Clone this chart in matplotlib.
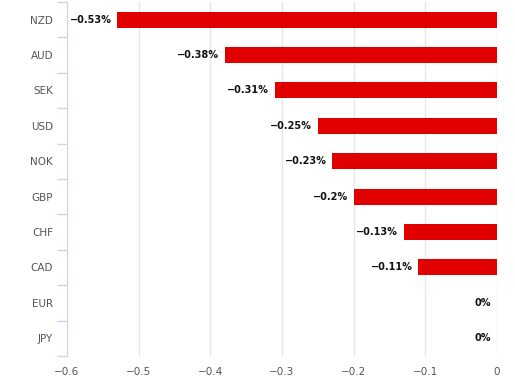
import numpy as np
import matplotlib.pyplot as plt

monedas = ["NZD", "AUD", "SEK", "USD", "NOK", "GBP", "CHF", "CAD", "EUR", "JPY"]
valores = [-0.53, -0.38, -0.31, -0.25, -0.23, -0.20, -0.13, -0.11, 0.0, 0.0]
etiquetas = ["\u22120.53%", "\u22120.38%", "\u22120.31%", "\u22120.25%", "\u22120.23%",
             "\u22120.2%", "\u22120.13%", "\u22120.11%", "0%", "0%"]
ticks_x = [-0.6, -0.5, -0.4, -0.3, -0.2, -0.1, 0]
ticks_x_txt = ["\u22120.6", "\u22120.5", "\u22120.4", "\u22120.3", "\u22120.2", "\u22120.1", "0"]

plt.rcParams['font.family'] = ['DejaVu Sans']

fig = plt.figure(figsize=(5.15, 3.89), dpi=100)
ax = fig.add_axes([0.130, 0.085, 0.835, 0.910])

y = np.arange(len(monedas))
ax.barh(y, valores, height=0.45, color="#e00000", zorder=3)

# etiquetas de valor a la izquierda de cada barra
for yi, v, txt in zip(y, valores, etiquetas):
    ax.annotate(txt, (v, yi), xytext=(-4, 0), textcoords="offset points",
                ha="right", va="center", fontsize=7, fontweight="bold", color="#111111")

ax.set_xlim(-0.6, 0)
ax.set_ylim(len(monedas) - 0.5, -0.5)

ax.set_xticks(ticks_x)
ax.set_xticklabels(ticks_x_txt, fontsize=7.5, color="#555555")
ax.tick_params(axis="x", length=0, pad=8)
ax.grid(axis="x", color="#e6e6e6", linewidth=1, zorder=0)

ax.set_yticks(y)
ax.set_yticklabels(monedas, fontsize=7.5, color="#555555")
ax.set_yticks(np.arange(-0.5, len(monedas) + 0.5, 1), minor=True)
ax.tick_params(axis="y", which="major", length=0, pad=10)
ax.tick_params(axis="y", which="minor", length=7, color="#ccd6eb", width=1)

for lado in ["top", "right", "bottom"]:
    ax.spines[lado].set_visible(False)
ax.spines["left"].set_color("#ccd6eb")

plt.savefig("out.png", dpi=100)
